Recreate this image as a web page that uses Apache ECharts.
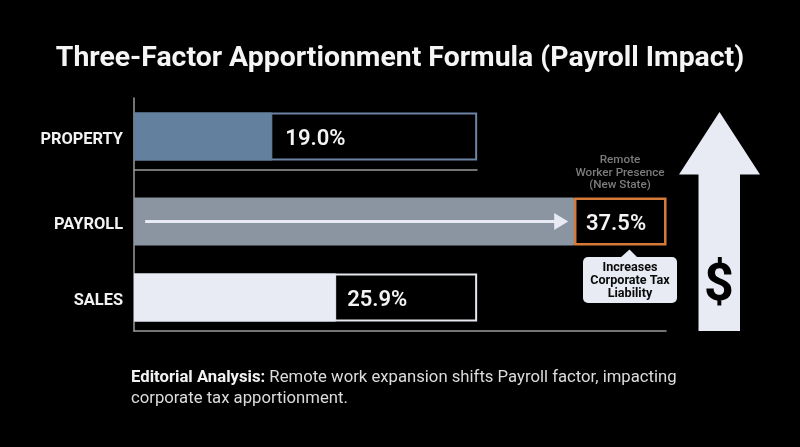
<!DOCTYPE html>
<html>
<head>
<meta charset="utf-8">
<style>html,body{margin:0;padding:0;background:#000}#c{width:800px;height:447px}</style>
<script src="https://cdn.jsdelivr.net/npm/echarts@6/dist/echarts.min.js"></script>
</head>
<body>
<div id="c"></div>
<script>
const categories = ['PROPERTY', 'PAYROLL', 'SALES'];
const shareLabels = ['19.0%', '37.5%', '25.9%'];
// Drawn lengths, on a 0-100 track
const filledLength = [26.0, 82.7, 38.0];
const outlineLength = [64.5, 17.4, 64.5];
const payrollArrowSpan = [2.1, 80.3];
const calloutAbove = 'Remote\nWorker Presence\n(New State)';
const calloutBelow = 'Increases\nCorporate Tax\nLiability';
const titleText = 'Three-Factor Apportionment Formula (Payroll Impact)';
const noteLead = 'Editorial Analysis:';
const noteBody = [' Remote work expansion shifts Payroll factor, impacting', 'corporate tax apportionment.'];

const FONT = 'Roboto';
const PALE = '#e8ebf4';
const chart = echarts.init(document.getElementById('c'), null, {renderer: 'canvas'});

const rowLabel = {show: true, color: '#f2f2f2', fontFamily: FONT, fontWeight: 700, fontSize: 16.4, margin: 11, verticalAlign: 'top', lineHeight: 6};
const yRow = (i) => ({type: 'category', gridIndex: i, data: [categories[i]], inverse: true,
  axisLine: {show: false}, axisTick: {show: false}, axisLabel: rowLabel});
const valueLabel = (text, position, distance) => ({show: true, position, distance, offset: [0, 3], formatter: () => text,
  color: '#f4f4f4', fontFamily: FONT, fontWeight: 600, fontSize: 22});

chart.setOption({
  backgroundColor: '#000',
  animation: false,
  title: [
    {text: titleText, left: 'center', top: 40, textStyle: {color: '#f5f5f5', fontFamily: FONT, fontWeight: 700, fontSize: 28.4}},
    {text: '{b|' + noteLead + '}{r|' + noteBody[0] + '}\n{r|' + noteBody[1] + '}', left: 126, top: 362,
     textStyle: {rich: {
       b: {color: '#f2f2f2', fontFamily: FONT, fontWeight: 700, fontSize: 16.7, lineHeight: 21},
       r: {color: '#dcdcdc', fontFamily: FONT, fontWeight: 400, fontSize: 16.7, lineHeight: 21}
     }}}
  ],
  grid: [
    {left: 134, top: 103, width: 343, height: 67},
    {left: 134, top: 170, width: 532, height: 103},
    {left: 134, top: 264, width: 532, height: 67},
    {left: 134, top: 98, width: 532, height: 233}
  ],
  xAxis: [
    {type: 'value', gridIndex: 0, min: 0, max: 64.47, show: true, splitLine: {show: false}, axisTick: {show: false}, axisLabel: {show: false},
     axisLine: {show: true, lineStyle: {color: '#9a9a9a', width: 1.5}}},
    {type: 'value', gridIndex: 1, min: 0, max: 100, show: false, splitLine: {show: false}},
    {type: 'value', gridIndex: 2, min: 0, max: 100, show: false, splitLine: {show: false}},
    {type: 'value', gridIndex: 3, min: 0, max: 100, splitLine: {show: false}, axisTick: {show: false}, axisLabel: {show: false},
     axisLine: {show: true, lineStyle: {color: '#9a9a9a', width: 1.5}}}
  ],
  yAxis: [yRow(0), yRow(1), yRow(2),
    {type: 'category', gridIndex: 3, data: [''], axisTick: {show: false}, axisLabel: {show: false},
     axisLine: {show: true, lineStyle: {color: '#9a9a9a', width: 1.5}}}
  ],
  series: [
    {type: 'bar', name: 'frame', xAxisIndex: 3, yAxisIndex: 3, data: [], silent: true},
    {type: 'bar', name: 'property outline', xAxisIndex: 0, yAxisIndex: 0, data: [outlineLength[0]], barWidth: 48, barGap: '-100%',
     itemStyle: {color: '#000', borderColor: '#6c84a6', borderWidth: 2}, z: 2},
    {type: 'bar', name: 'property', xAxisIndex: 0, yAxisIndex: 0, data: [filledLength[0]], barWidth: 48, barGap: '-100%',
     itemStyle: {color: '#64809f', borderColor: '#64809f', borderWidth: 1}, label: valueLabel(shareLabels[0], 'right', 13), z: 3},
    {type: 'bar', name: 'payroll', stack: 'p', xAxisIndex: 1, yAxisIndex: 1, data: [filledLength[1]], barWidth: 48,
     itemStyle: {color: '#8b95a1', borderColor: '#8b95a1', borderWidth: 1}, z: 3,
     markLine: {silent: true, animation: false, symbol: ['none', 'triangle'], symbolSize: [17, 14], label: {show: false},
       lineStyle: {color: PALE, width: 3, type: 'solid'}, emphasis: {disabled: true},
       data: [[{coord: [payrollArrowSpan[0], categories[1]]}, {coord: [payrollArrowSpan[1], categories[1]]}]]}},
    {type: 'bar', name: 'payroll box', stack: 'p', xAxisIndex: 1, yAxisIndex: 1, data: [outlineLength[1]], barWidth: 48,
     itemStyle: {color: '#000', borderColor: '#d67a3a', borderWidth: 2.5}, label: valueLabel(shareLabels[1], 'insideLeft', 12), z: 4},
    {type: 'bar', name: 'sales outline', xAxisIndex: 2, yAxisIndex: 2, data: [outlineLength[2]], barWidth: 48, barGap: '-100%',
     itemStyle: {color: '#000', borderColor: '#e6e8f0', borderWidth: 2}, z: 2},
    {type: 'bar', name: 'sales', xAxisIndex: 2, yAxisIndex: 2, data: [filledLength[2]], barWidth: 48, barGap: '-100%',
     itemStyle: {color: PALE, borderColor: PALE, borderWidth: 1}, label: valueLabel(shareLabels[2], 'right', 11), z: 3}
  ],
  graphic: [
    {type: 'text', x: 620, y: 154, style: {text: calloutAbove, align: 'center', fill: '#7c7c7c', fontFamily: FONT, fontWeight: 500, fontSize: 11.7, lineHeight: 12.5}},
    {type: 'polygon', shape: {points: [[620, 258], [629.5, 249.5], [638, 258]]}, style: {fill: PALE}},
    {type: 'rect', shape: {x: 583, y: 257, width: 94, height: 46, r: 5}, style: {fill: PALE}},
    {type: 'text', x: 630, y: 261, style: {text: calloutBelow, align: 'center', fill: '#0a0a0a', fontFamily: FONT, fontWeight: 700, fontSize: 12.6, lineHeight: 13}, z: 5},
    {type: 'polygon', shape: {points: [[719.5, 112], [760, 174.5], [740, 174.5], [740, 331], [698.5, 331], [698.5, 174.5], [679, 174.5]]}, style: {fill: PALE}},
    {type: 'text', x: 719, y: 261, style: {text: '$', align: 'center', fill: '#000', fontFamily: FONT, fontWeight: 700, fontSize: 52}, z: 5}
  ]
});
</script>
</body>
</html>
